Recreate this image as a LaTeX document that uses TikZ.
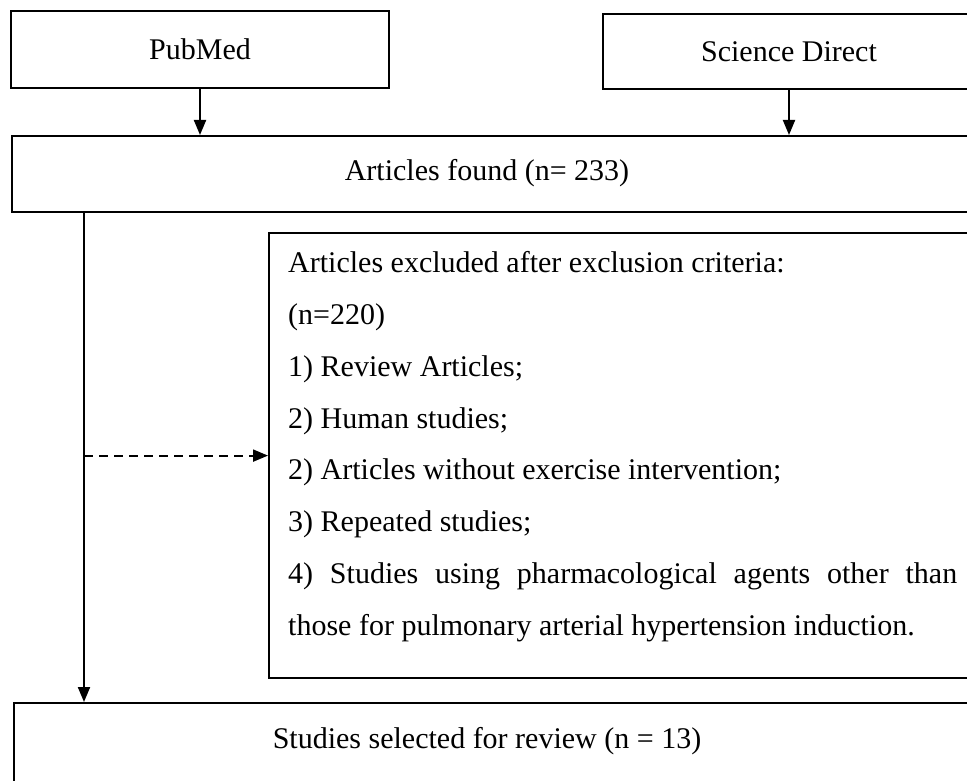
\documentclass[tikz,border=0pt]{standalone}
\usepackage{fontspec}
\setmainfont{Liberation Serif}
\usetikzlibrary{arrows.meta}
\begin{document}
\begin{tikzpicture}[x=1pt,y=-1pt,
  box/.style={draw, line width=2.2pt, inner sep=0pt},
  arr/.style={line width=2pt, -{Triangle[length=15pt,width=12pt]}},
  darr/.style={arr, dash pattern=on 9pt off 6pt},
  lbl/.style={anchor=base west, inner sep=0pt},
  txt/.style={inner sep=0pt},
  font=\fontsize{30}{36}\selectfont]
\useasboundingbox (0,0) rectangle (967,781);
\clip (0,0) rectangle (967,781);
% source boxes
\node[box, minimum width=378pt, minimum height=77pt] (pub) at (200,49.5) {PubMed};
\node[box, minimum width=372pt, minimum height=75pt] (sd) at (789,51.5) {Science Direct};
% articles found
\node[box, anchor=north west, minimum width=964pt, minimum height=76pt] (found) at (11,135) {};
\node[txt] (foundtxt) at (487,173) {Articles found (n= 233)};
% exclusion box
\node[box, anchor=north west, minimum width=712pt, minimum height=445pt] (excl) at (268,232) {};
\node[lbl] (e1) at (288,272) {Articles excluded after exclusion criteria:};
\node[lbl] (e2) at (288,324) {(n=220)};
\node[lbl] (e3) at (288,376) {1) Review Articles;};
\node[lbl] (e4) at (288,428) {2) Human studies;};
\node[lbl] (e5) at (288,479) {2) Articles without exercise intervention;};
\node[lbl] (e6) at (288,531) {3) Repeated studies;};
\node[lbl] (e7) at (288,583) {\makebox[669pt][s]{4) Studies using pharmacological agents other than}};
\node[lbl] (e8) at (288,635) {those for pulmonary arterial hypertension induction.};
% selected
\node[box, anchor=north west, minimum width=962pt, minimum height=98pt] (sel) at (13,702) {};
\node[txt] (seltxt) at (487,741) {Studies selected for review (n = 13)};
% connectors
\draw[arr] (pub.south) -- (pub.south |- found.north);
\draw[arr] (sd.south) -- (sd.south |- found.north);
\coordinate (t1) at ([xshift=73pt]found.south west);
\draw[arr] (t1) -- (t1 |- sel.north);
\draw[darr] (t1 |- excl.west) -- (excl.west);
\end{tikzpicture}
\end{document}
